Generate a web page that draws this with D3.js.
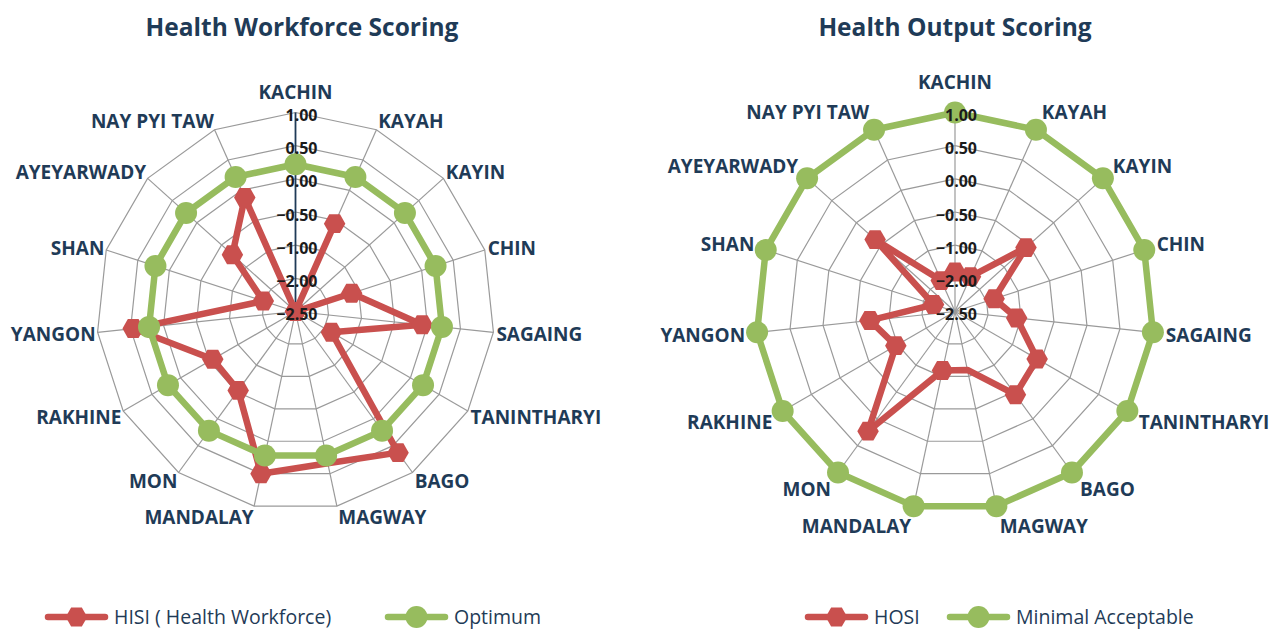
<!DOCTYPE html>
<html>
<head>
<meta charset="utf-8">
<script src="https://cdn.jsdelivr.net/npm/d3@7"></script>
<style>
  body { margin: 0; background: #ffffff; }
  svg { display: block; }
  text { font-family: "Open Sans", "Noto Sans", sans-serif; }
</style>
</head>
<body>
<svg id="chart" width="1270" height="630"></svg>
<script>
// Regions, clockwise from the top spoke
const regions = ["KACHIN", "KAYAH", "KAYIN", "CHIN", "SAGAING", "TANINTHARYI", "BAGO",
  "MAGWAY", "MANDALAY", "MON", "RAKHINE", "YANGON", "SHAN", "AYEYARWADY", "NAY PYI TAW"];

// Health workforce scoring
const hisiWorkforce = [-2.50, -0.55, -2.50, -1.22, -0.08, -1.75, 0.63, 0.34, 0.50, -0.53, -0.56, 0.46, -1.98, -0.72, -0.12];
const optimum = [0.22, 0.22, 0.22, 0.22, 0.22, 0.22, 0.22, 0.22, 0.22, 0.22, 0.22, 0.22, 0.22, 0.22, 0.22];

// Health output scoring
const hosi = [-1.81, -1.85, -0.56, -1.76, -1.13, -0.57, -0.45, -1.20, -1.18, 0.23, -0.97, -0.71, -2.16, -0.38, -1.98];
const minimalAcceptable = [1.00, 1.00, 1.00, 1.00, 1.00, 1.00, 1.00, 1.00, 1.00, 1.00, 1.00, 1.00, 1.00, 1.00, 1.00];

// Radial axis levels (one ring per level, labelled with two decimals)
const tickValues = [-2.5, -2.0, -1.0, -0.5, 0.0, 0.5, 1.0];

// Points drawn without a marker on the red series
const unmarkedRegions = ["MAGWAY"];

const RED = "#C9504E", GREEN = "#97BC5E", NAVY = "#1F3B57", GRID = "#9a9a9a";
const R = 199;

const svg = d3.select("#chart");

// Hexagon marker, pointed at left and right
const hexagon = {
  draw(ctx, size) {
    const w = Math.sqrt(size) * 0.62, h = w * 0.88;
    ctx.moveTo(-w, 0);
    ctx.lineTo(-w / 2, -h);
    ctx.lineTo(w / 2, -h);
    ctx.lineTo(w, 0);
    ctx.lineTo(w / 2, h);
    ctx.lineTo(-w / 2, h);
    ctx.closePath();
  }
};
const hexPath = d3.symbol(hexagon, 300)();
const circlePath = d3.symbol(d3.symbolCircle, 380)();

const panels = [
  {
    title: "Health Workforce Scoring", titleX: 302, cx: 295.5, cy: 311.5,
    axisColor: NAVY, labelGap: 2,
    series: [
      { name: "HISI ( Health Workforce)", values: hisiWorkforce, color: RED, marker: hexPath, skip: unmarkedRegions },
      { name: "Optimum", values: optimum, color: GREEN, marker: circlePath, skip: [] }
    ],
    legendX: [48, 388]
  },
  {
    title: "Health Output Scoring", titleX: 955, cx: 955, cy: 311.5,
    axisColor: GRID, labelGap: 12,
    series: [
      { name: "HOSI", values: hosi, color: RED, marker: hexPath, skip: unmarkedRegions },
      { name: "Minimal Acceptable", values: minimalAcceptable, color: GREEN, marker: circlePath, skip: [] }
    ],
    legendX: [808, 950]
  }
];

const angle = d3.scaleLinear().domain([0, regions.length]).range([0, 2 * Math.PI]);
const radius = d3.scaleLinear()
  .domain(tickValues)
  .range(tickValues.map((d, i) => i * R / (tickValues.length - 1)));
const fmt = d3.format(".2f");

panels.forEach(p => {
  const g = svg.append("g").attr("transform", `translate(${p.cx},${p.cy})`);

  // Title
  svg.append("text")
    .attr("x", p.titleX).attr("y", 36)
    .attr("text-anchor", "middle")
    .attr("font-size", 24.5).attr("font-weight", 700)
    .attr("fill", NAVY)
    .text(p.title);

  // Rings
  const ringLine = d3.lineRadial()
    .angle((d, i) => angle(i))
    .curve(d3.curveLinearClosed);
  g.append("g").selectAll("path")
    .data(tickValues.slice(1))
    .join("path")
    .attr("d", v => ringLine.radius(radius(v))(regions))
    .attr("fill", "none")
    .attr("stroke", GRID)
    .attr("stroke-width", 1.2);

  // Spokes
  g.append("g").selectAll("line")
    .data(regions)
    .join("line")
    .attr("x1", 0).attr("y1", 0)
    .attr("x2", (d, i) => R * Math.sin(angle(i)))
    .attr("y2", (d, i) => -R * Math.cos(angle(i)))
    .attr("stroke", (d, i) => i === 0 ? p.axisColor : GRID)
    .attr("stroke-width", (d, i) => i === 0 && p.axisColor !== GRID ? 1.8 : 1.2);

  // Series lines and markers
  const seriesLine = d3.lineRadial()
    .angle((d, i) => angle(i))
    .radius(d => radius(d))
    .curve(d3.curveLinearClosed);

  p.series.forEach(s => {
    const sg = g.append("g");
    sg.append("path")
      .attr("d", seriesLine(s.values))
      .attr("fill", "none")
      .attr("stroke", s.color)
      .attr("stroke-width", 6.5)
      .attr("stroke-linejoin", "round");
    sg.selectAll("path.marker")
      .data(s.values.map((v, i) => ({ v, i })).filter(d => !s.skip.includes(regions[d.i])))
      .join("path")
      .attr("class", "marker")
      .attr("d", s.marker)
      .attr("fill", s.color)
      .attr("transform", d => {
        const a = angle(d.i), r = radius(d.v);
        return `translate(${r * Math.sin(a)},${-r * Math.cos(a)})`;
      });
  });

  // Tick labels along the top spoke
  g.append("g").selectAll("text")
    .data(tickValues)
    .join("text")
    .attr("x", 22)
    .attr("y", v => -radius(v) + 3)
    .attr("dy", "0.35em")
    .attr("text-anchor", "end")
    .attr("font-size", 16).attr("font-weight", 700)
    .attr("fill", "#1b1b1b")
    .text(v => fmt(v));

  // Category labels
  g.append("g").selectAll("text")
    .data(regions)
    .join("text")
    .each(function (d, i) {
      const a = angle(i), s = Math.sin(a), c = Math.cos(a);
      const rr = R + p.labelGap;
      let x = rr * s, y = -(rr + 8) * c + 1;
      let anchor = "middle";
      if (Math.abs(s) < 0.05) { y -= 11; }
      else if (s > 0) { anchor = "start"; x += 1; }
      else { anchor = "end"; }
      d3.select(this)
        .attr("x", x).attr("y", y)
        .attr("dy", "0.35em")
        .attr("text-anchor", anchor);
    })
    .attr("font-size", 19).attr("font-weight", 700)
    .attr("fill", NAVY)
    .text(d => d);

  // Legend
  const lg = svg.append("g").attr("transform", "translate(0,617)");
  p.series.forEach((s, k) => {
    const x0 = p.legendX[k];
    const item = lg.append("g").attr("transform", `translate(${x0},0)`);
    item.append("line")
      .attr("x1", 0).attr("x2", 57)
      .attr("stroke", s.color).attr("stroke-width", 6.5)
      .attr("stroke-linecap", "round");
    item.append("path")
      .attr("d", s.marker)
      .attr("fill", s.color)
      .attr("transform", "translate(28.5,0)");
    item.append("text")
      .attr("x", 66).attr("dy", "0.35em")
      .attr("font-size", 19.5)
      .attr("fill", NAVY)
      .text(s.name);
  });
});
</script>
</body>
</html>
